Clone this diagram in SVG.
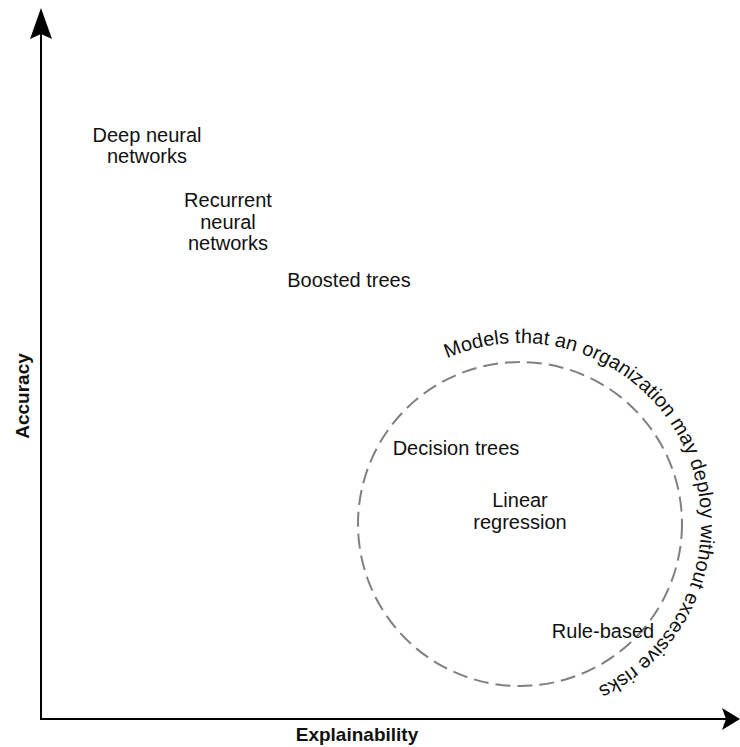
<svg xmlns="http://www.w3.org/2000/svg" width="740" height="747" viewBox="0 0 740 747">
  <style>
    .lbl { font-family: "Liberation Sans", Arial, sans-serif; font-size: 20px; fill: #111; text-anchor: middle; }
    .axis-lbl { font-family: "Liberation Sans", Arial, sans-serif; font-size: 19px; font-weight: bold; fill: #111; text-anchor: middle; }
    .axis { stroke: #000; stroke-width: 2; fill: none; }
    .head { fill: #000; stroke: none; }
  </style>
  <defs>
    <path id="arcText" d="M 447.2 358.3 A 181 181 0 1 1 458.1 694.1"/>
  </defs>
  <rect width="740" height="747" fill="#fff"/>

  <g id="connectors">
    <line class="axis" x1="41" y1="719" x2="41" y2="32"/>
    <path class="head" d="M 41 8 L 52 39 L 41 34 L 30 39 Z"/>
    <line class="axis" x1="40" y1="719" x2="726" y2="719"/>
    <path class="head" d="M 740 719 L 722 708 L 726 719 L 722 730 Z"/>
  </g>

  <g id="axis-y-label">
    <text class="axis-lbl" transform="translate(29 396) rotate(-90)">Accuracy</text>
  </g>
  <g id="axis-x-label">
    <text class="axis-lbl" x="357" y="741">Explainability</text>
  </g>

  <g id="deploy-region">
    <circle cx="520" cy="524" r="162" fill="none" stroke="#808080" stroke-width="2" stroke-dasharray="15 7"/>
    <text style="font-family: 'Liberation Sans', Arial, sans-serif; font-size: 20px; fill: #111;"><textPath href="#arcText">Models that an organization may deploy without excessive risks</textPath></text>
  </g>

  <g id="deep-neural-networks">
    <text class="lbl" x="147" y="142">Deep neural</text>
    <text class="lbl" x="147" y="163">networks</text>
  </g>
  <g id="recurrent-neural-networks">
    <text class="lbl" x="228" y="207">Recurrent</text>
    <text class="lbl" x="228" y="229">neural</text>
    <text class="lbl" x="228" y="250">networks</text>
  </g>
  <g id="boosted-trees">
    <text class="lbl" x="349" y="287">Boosted trees</text>
  </g>
  <g id="decision-trees">
    <text class="lbl" x="456" y="455">Decision trees</text>
  </g>
  <g id="linear-regression">
    <text class="lbl" x="520" y="507">Linear</text>
    <text class="lbl" x="520" y="529">regression</text>
  </g>
  <g id="rule-based">
    <text class="lbl" x="603" y="638">Rule-based</text>
  </g>
</svg>
